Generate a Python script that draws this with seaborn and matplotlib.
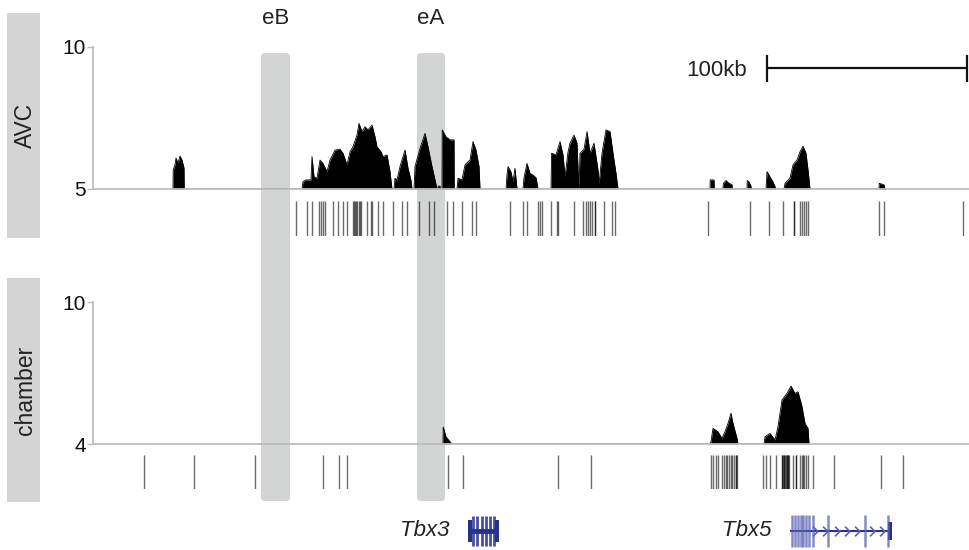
import numpy as np
import pandas as pd
import matplotlib
matplotlib.use("Agg")
import matplotlib.pyplot as plt
from matplotlib.patches import FancyBboxPatch, Rectangle
from matplotlib.path import Path
import seaborn as sns

# ---------------- data (genomic position in kb from left edge of the tracks) ----------------
XMAX = 438

avc_x = [40, 40.1, 41, 41.5, 42.5, 43.5, 44.5, 45.5, 45.6,
         104.5, 105, 106.5, 109, 109.5, 110.5, 112, 113.5, 115, 117, 118.5, 121, 123.5, 125, 127,
         128.5, 130, 132, 133, 134.5, 136, 137.5, 139.5, 141, 142, 144, 145, 147, 148.5, 149.3, 149.5,
         150.5, 151, 152, 153.5, 156, 157.5, 159, 159.5,
         160.5, 161, 163.5, 166, 167.5, 169.5, 171, 172,
         172.5, 172.6, 173.5, 173.6,
         174.5, 174.6, 176.5, 178.5, 180.5, 180.6,
         182, 182.5, 184.5, 186, 188.5, 190, 191.5, 193, 193.5,
         206.5, 207, 207.5, 209, 210, 211, 212,
         215, 215.5, 217, 218.5, 220, 221.5, 222.5,
         229, 229.3, 231.5, 233.5, 235, 236, 237.5, 238.5, 240.5, 242, 242.8, 243, 243.5, 245.5, 247,
         248.5, 250.5, 252.5, 253, 253.5, 254.5, 256.5, 258.5, 260, 261.5, 262.5,
         308.5, 308.6, 310.5, 310.6,
         315, 315.2, 316.5, 318, 319.5, 319.6,
         327, 327.1, 328, 329, 329.1,
         336.5, 337, 338.5, 340, 341.5,
         345.5, 346, 348.5, 350, 352, 353.5, 355, 356.5, 357.5, 358.5,
         393, 393.1, 395.5, 396]
avc_val = [5, 5.67, 5.85, 6.09, 5.92, 6.16, 6.02, 5.74, 5,
           5, 5.26, 5.32, 5.32, 6.14, 5.43, 5.38, 6.02, 5.90, 5.61, 6.02, 6.37, 6.40, 6.26, 5.85,
           6.31, 6.49, 6.90, 7.31, 7.02, 7.19, 7.08, 7.25, 6.84, 6.49, 6.31, 6.14, 6.20, 5.61, 5.1, 5,
           5, 5.38, 5.32, 5.79, 6.37, 5.73, 5.3, 5,
           5, 5.79, 6.43, 6.96, 6.49, 5.79, 5.32, 5,
           5, 5.1, 5.1, 5,
           5, 7.08, 6.84, 6.73, 6.73, 5,
           5, 5.38, 5.32, 5.85, 6.02, 6.67, 6.37, 5.8, 5,
           5, 5.5, 5.79, 5.6, 5.26, 5.73, 5,
           5, 5.4, 5.90, 5.55, 5.49, 5.4, 5,
           5, 6.26, 6.2, 6.67, 6.2, 5.43, 6.3, 6.61, 6.90, 6.61, 5.2, 5, 6.26, 6.4, 7.02,
           6.26, 6.61, 5.67, 5.2, 5.5, 6.26, 7.08, 7.02, 6.26, 5.55, 5,
           5, 5.32, 5.32, 5,
           5, 5.2, 5.3, 5.2, 5.15, 5,
           5, 5.3, 5.25, 5.1, 5,
           5, 5.61, 5.43, 5.25, 5,
           5, 5.2, 5.38, 5.85, 6.02, 6.31, 6.51, 6.26, 5.67, 5,
           5, 5.2, 5.15, 5]

cham_x = [175, 175.1, 176.5, 178.5, 179.5,
          308.5, 309, 310, 312.5, 314.5, 316, 317.5, 319, 320, 322, 322.5,
          335.5, 336, 338.5, 341, 342.5, 344.5, 347, 349, 351, 352.5, 354.5, 356, 357.5, 358]
cham_val = [4, 4.72, 4.3, 4.1, 4,
            4, 4.1, 4.66, 4.52, 4.24, 4.52, 4.87, 5.30, 4.87, 4.24, 4,
            4, 4.31, 4.45, 4.17, 4.73, 5.86, 6.14, 6.45, 6.14, 6.21, 5.58, 4.87, 4.66, 4]

avc_sites = [101.5, 107.2, 109.3, 113, 114, 115, 116.2, 120.2, 122.7, 124.8, 126.8,
             129.8, 130.4, 131, 131.6, 132.2, 132.8, 133.4, 134.0,
             137.2, 139.1, 139.5, 142.7, 145.2, 150.2, 154.3, 156.8, 163.2, 168.2, 170.7,
             177.2, 180.2, 184.3, 189.3, 191.5, 208.5, 215.2, 217.2, 222.7, 223.5, 224.3,
             229, 232, 232.4, 240.7, 245.2, 246.3, 247.4, 248.5, 249.6, 250.8, 251.1,
             255.7, 259.3, 261,
             307.7, 328.5, 338, 345.2, 350.3, 350.7, 353.5, 354.5, 355.5, 356.5, 357.5,
             393.2, 395.7, 435]
cham_sites = [25.5, 50.7, 81, 114.8, 123.2, 126.8, 177.7, 184.8, 232.3, 249,
              308.8, 310.2, 311.5, 312.7, 314.7, 315.5, 316.3, 317.2, 318, 318.8, 319.7,
              320.5, 321.3, 321.7, 322.2,
              335.2, 336.5, 338.5, 341.5, 344.3, 344.7, 345, 345.4, 345.7, 346.1, 346.4,
              346.8, 347, 347.4, 347.7, 348.2, 350.2, 351.3, 351.7, 353.5, 354.3, 355,
              355.5, 356.3, 357.7, 360.2, 370.7, 394.2, 404.8]

enhancers = ["eB", "eA"]
enh_start = [84, 162]
enh_end = [98.5, 176]

tbx3_exons = [190, 192, 194.5, 196.5, 198.5, 200.5]
tbx3_span = [188.5, 202]
tbx5_exons = [349.3, 351, 352.7, 354, 355.2, 356.5, 357.8, 360.2, 367.7, 386, 397.7]
tbx5_span = [348.5, 399.5]
tbx5_arrows = [361, 366, 371.8, 376.8, 381.8, 389.3, 394.3]

scale_kb = 100
scale_start = 337

# ---------------- style ----------------
sns.set_theme(style="white")
plt.rcParams["font.family"] = ["Liberation Sans", "DejaVu Sans"]

W, H = 969, 550
fig = plt.figure(figsize=(W / 100, H / 100), dpi=100)


def fax(x0, y0, x1, y1, **kw):
    return fig.add_axes([x0 / W, 1 - y1 / H, (x1 - x0) / W, (y1 - y0) / H], **kw)


GRID = "#bdbdbd"
HL = "#d3d4d4"
NAVY = "#27318f"
BLUE = "#5a63b5"

# background axes (pixel-y, genomic-x) for highlights, scale bar, genes
bg = fax(93, 0, 969, 550, zorder=0)
bg.set_xlim(0, XMAX)
bg.set_ylim(H, 0)
bg.axis("off")

for name, s, e in zip(enhancers, enh_start, enh_end):
    box = FancyBboxPatch((s, 53), e - s, 448, boxstyle="round,pad=0,rounding_size=2",
                         mutation_aspect=2, facecolor=HL, edgecolor="none")
    bg.add_patch(box)
    bg.text((s + e) / 2, 18, name, ha="center", va="center", fontsize=16, color="#222222")

# scale bar
bg.plot([scale_start, scale_start + scale_kb], [68, 68], color="#111111", lw=1.6)
bg.vlines([scale_start, scale_start + scale_kb], 55, 82, color="#111111", lw=1.6)
bg.text(scale_start - 10, 70, "100kb", ha="right", va="center", fontsize=16, color="#222222")

# genes
bg.hlines(531, tbx3_span[0], tbx3_span[1], color=NAVY, lw=3.5)
bg.vlines(tbx3_exons, 516, 546, color=NAVY, lw=2.0, alpha=0.85)
for x0 in tbx3_span:
    bg.add_patch(Rectangle((x0 - 0.8, 520), 1.6, 22, facecolor=NAVY, edgecolor="none"))
bg.text(tbx3_span[0] - 10, 531, "Tbx3", ha="right", va="center", fontsize=16,
        style="italic", color="#222222")

bg.hlines(531, tbx5_span[0], tbx5_span[1], color=NAVY, lw=1.5)
bg.vlines(tbx5_exons, 515, 547, color=BLUE, lw=1.8, alpha=0.75)
bg.add_patch(Rectangle((tbx5_span[1] - 1.8, 522), 1.8, 18, facecolor=NAVY, edgecolor="none"))
chev = Path([(-0.5, 1), (0.5, 0), (-0.5, -1)], [Path.MOVETO, Path.LINETO, Path.LINETO])
bg.plot(tbx5_arrows, [531] * len(tbx5_arrows), ls="none", marker=chev, ms=7,
        mfc="none", mec=BLUE, mew=1.2)
bg.text(tbx5_span[0] - 9, 531, "Tbx5", ha="right", va="center", fontsize=16,
        style="italic", color="#222222")


def signal_axes(box, ylim, yt, x, y):
    ax = fax(*box, zorder=2)
    ax.set_facecolor("none")
    df = pd.DataFrame({"pos": x, "val": y})
    ax.fill_between(df["pos"], ylim[0], df["val"], color="black", lw=0)
    sns.lineplot(data=df, x="pos", y="val", ax=ax, color="black", lw=0.6, sort=False)
    ax.set_xlim(0, XMAX)
    ax.set_ylim(*ylim)
    ax.set_yticks(yt)
    ax.set_yticklabels([str(v) for v in yt])
    ax.set_xticks([])
    ax.set_xlabel("")
    ax.set_ylabel("")
    for sp in ["top", "right"]:
        ax.spines[sp].set_visible(False)
    for sp in ["left", "bottom"]:
        ax.spines[sp].set_color(GRID)
        ax.spines[sp].set_linewidth(1.3)
    ax.tick_params(axis="y", left=True, length=4, width=1, color=GRID,
                   labelsize=15, pad=1, labelcolor="#111111")
    return ax


avc = signal_axes((93, 47, 969, 189), (5, 10), [5, 10], avc_x, avc_val)
cham = signal_axes((93, 302, 969, 444), (4, 10), [4, 10], cham_x, cham_val)


def site_axes(box, sites):
    ax = fax(*box, zorder=2)
    ax.set_facecolor("none")
    ax.set_xlim(0, XMAX)
    ax.set_ylim(0, 1)
    sns.rugplot(x=sites, height=1, ax=ax, color="black", alpha=0.58, lw=1.9)
    ax.axis("off")
    return ax


site_axes((93, 201, 969, 236), avc_sites)
site_axes((93, 455, 969, 489), cham_sites)

# track name boxes
for (y0, y1), name in zip([(13, 238), (278, 502)], ["AVC", "chamber"]):
    lab = fax(7, y0, 40, y1, zorder=1)
    lab.set_facecolor("#d4d4d4")
    lab.set_xticks([])
    lab.set_yticks([])
    for sp in lab.spines.values():
        sp.set_visible(False)
    lab.text(0.55, 0.5, name, rotation=90, ha="center", va="center", fontsize=16.5,
             color="#222222", transform=lab.transAxes)

fig.savefig("out.png", dpi=100, facecolor="white")
